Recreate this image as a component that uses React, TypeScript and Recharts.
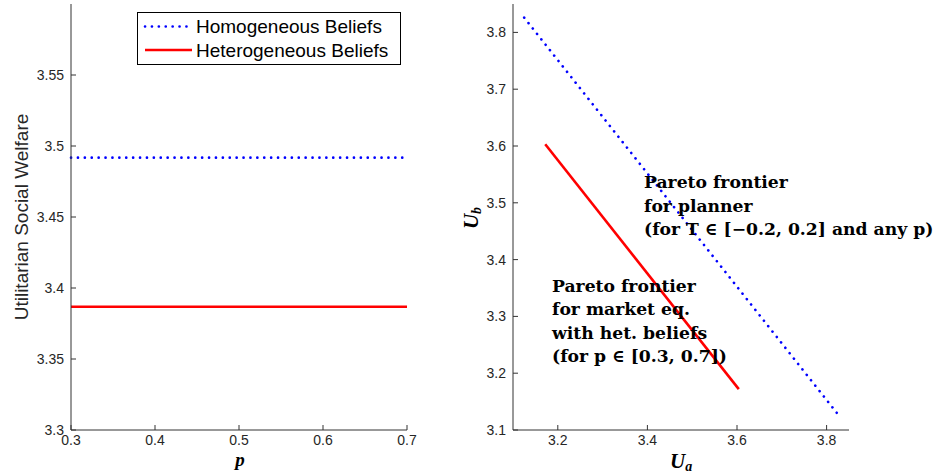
import React from 'react';
import { LineChart, Line, XAxis, YAxis } from 'recharts';

// ---- Left panel data ----
const pValues = [0.3, 0.4, 0.5, 0.6, 0.7];
const homogeneousWelfare = [3.4918, 3.4918, 3.4918, 3.4918, 3.4918];
const heterogeneousWelfare = [3.3868, 3.3868, 3.3868, 3.3868, 3.3868];
const leftXTicks = [0.3, 0.4, 0.5, 0.6, 0.7];
const leftYTicks = [3.3, 3.35, 3.4, 3.45, 3.5, 3.55];
const seriesNames = ['Homogeneous Beliefs', 'Heterogeneous Beliefs'];

// ---- Right panel data ----
const plannerUa = [3.125, 3.825];
const plannerUb = [3.826, 3.128];
const marketUa = [3.172, 3.604];
const marketUb = [3.603, 3.172];
const rightXTicks = [3.2, 3.4, 3.6, 3.8];
const rightYTicks = [3.1, 3.2, 3.3, 3.4, 3.5, 3.6, 3.7, 3.8];

const plannerLabel = ['Pareto frontier', 'for planner', '(for T \u2208 [\u22120.2, 0.2] and any p)'];
const marketLabel = ['Pareto frontier', 'for market eq.', 'with het. beliefs', '(for p \u2208 [0.3, 0.7])'];

const leftData = pValues.map((p, i) => ({ p, homo: homogeneousWelfare[i], hetero: heterogeneousWelfare[i] }));
const plannerData = plannerUa.map((x, i) => ({ x, y: plannerUb[i] }));
const marketData = marketUa.map((x, i) => ({ x, y: marketUb[i] }));

const BLUE = '#0000ff';
const RED = '#ff0000';
const AXIS = '#333333';
const TEXT = '#262626';
const sans = 'Liberation Sans, Arial, sans-serif';
const serif = 'DejaVu Serif, serif';
const mathSerif = 'Liberation Serif, Times New Roman, serif';

const tickStyle = { fontSize: 14, fill: TEXT, fontFamily: sans };

export default function App() {
  return (
    <div style={{ position: 'absolute', left: 0, top: 0, width: 941, height: 476, background: '#fff' }}>
      <div style={{ position: 'absolute', left: 0, top: 0 }}>
        <LineChart width={420} height={476} data={leftData} margin={{ top: 4, right: 13, bottom: 0, left: 0 }}>
          <XAxis
            dataKey="p"
            type="number"
            domain={[0.3, 0.7]}
            ticks={leftXTicks}
            interval={0}
            height={46}
            tickSize={-5}
            tickMargin={10}
            stroke={AXIS}
            tick={tickStyle}
            tickFormatter={(v: number) => String(v)}
          />
          <YAxis
            type="number"
            domain={[3.3, 3.6]}
            ticks={leftYTicks}
            interval={0}
            width={71}
            tickSize={-5}
            tickMargin={12}
            stroke={AXIS}
            tick={tickStyle}
            tickFormatter={(v: number) => String(v)}
          />
          <Line
            dataKey="homo"
            name={seriesNames[0]}
            stroke={BLUE}
            strokeWidth={2.6}
            strokeDasharray="0.1 6.8"
            strokeLinecap="round"
            dot={false}
            isAnimationActive={false}
          />
          <Line
            dataKey="hetero"
            name={seriesNames[1]}
            stroke={RED}
            strokeWidth={2.6}
            dot={false}
            isAnimationActive={false}
          />
        </LineChart>
      </div>
      <div style={{ position: 'absolute', left: 440, top: 0 }}>
        <LineChart width={501} height={476} margin={{ top: 4, right: 92, bottom: 0, left: 0 }}>
          <XAxis
            dataKey="x"
            type="number"
            domain={[3.1, 3.85]}
            ticks={rightXTicks}
            interval={0}
            height={46}
            tickSize={-5}
            tickMargin={10}
            stroke={AXIS}
            tick={tickStyle}
            allowDuplicatedCategory={false}
            tickFormatter={(v: number) => String(v)}
          />
          <YAxis
            dataKey="y"
            type="number"
            domain={[3.1, 3.85]}
            ticks={rightYTicks}
            interval={0}
            width={73}
            tickSize={-5}
            tickMargin={12}
            stroke={AXIS}
            tick={tickStyle}
            tickFormatter={(v: number) => String(v)}
          />
          <Line
            data={plannerData}
            dataKey="y"
            stroke={BLUE}
            strokeWidth={2.6}
            strokeDasharray="0.1 6.8"
            strokeLinecap="round"
            dot={false}
            isAnimationActive={false}
          />
          <Line
            data={marketData}
            dataKey="y"
            stroke={RED}
            strokeWidth={2.6}
            dot={false}
            isAnimationActive={false}
          />
        </LineChart>
      </div>
      <svg width={941} height={476} style={{ position: 'absolute', left: 0, top: 0, pointerEvents: 'none' }}>
        {/* Legend */}
        <rect x={137.5} y={12.5} width={263} height={52} fill="#fff" stroke="#000" strokeWidth={1} />
        <line x1={145} y1={26.5} x2={190} y2={26.5} stroke={BLUE} strokeWidth={2.6} strokeDasharray="0.1 6.8" strokeLinecap="round" />
        <line x1={145} y1={50} x2={192} y2={50} stroke={RED} strokeWidth={2.6} />
        <text x={196} y={33} fontSize={19} fontFamily={sans} fill="#000">{seriesNames[0]}</text>
        <text x={196} y={57} fontSize={19} fontFamily={sans} fill="#000">{seriesNames[1]}</text>

        {/* Left axis titles */}
        <text transform="translate(28,217) rotate(-90)" textAnchor="middle" fontSize={19} fontFamily={sans} fill={TEXT}>
          Utilitarian Social Welfare
        </text>
        <text x={240} y={466} textAnchor="middle" fontSize={19} fontFamily={mathSerif} fontStyle="italic" fontWeight="bold" fill="#000">
          p
        </text>

        {/* Right axis titles */}
        <text x={670} y={468} fontSize={21} fontFamily={mathSerif} fontStyle="italic" fontWeight="bold" fill="#000">
          U<tspan fontSize={14} dy={3}>a</tspan>
        </text>
        <text transform="translate(478,218) rotate(-90)" textAnchor="middle" fontSize={21} fontFamily={mathSerif} fontStyle="italic" fontWeight="bold" fill="#000">
          U<tspan fontSize={14} dy={3}>b</tspan>
        </text>

        {/* Annotations */}
        {plannerLabel.map((s, i) => (
          <text key={'pl' + i} x={644} y={188 + i * 23.5} fontSize={17.2} fontFamily={serif} fontWeight="bold" fill="#000">
            {s}
          </text>
        ))}
        {marketLabel.map((s, i) => (
          <text key={'mk' + i} x={552} y={292 + i * 23.4} fontSize={17.2} fontFamily={serif} fontWeight="bold" fill="#000">
            {s}
          </text>
        ))}
      </svg>
    </div>
  );
}
